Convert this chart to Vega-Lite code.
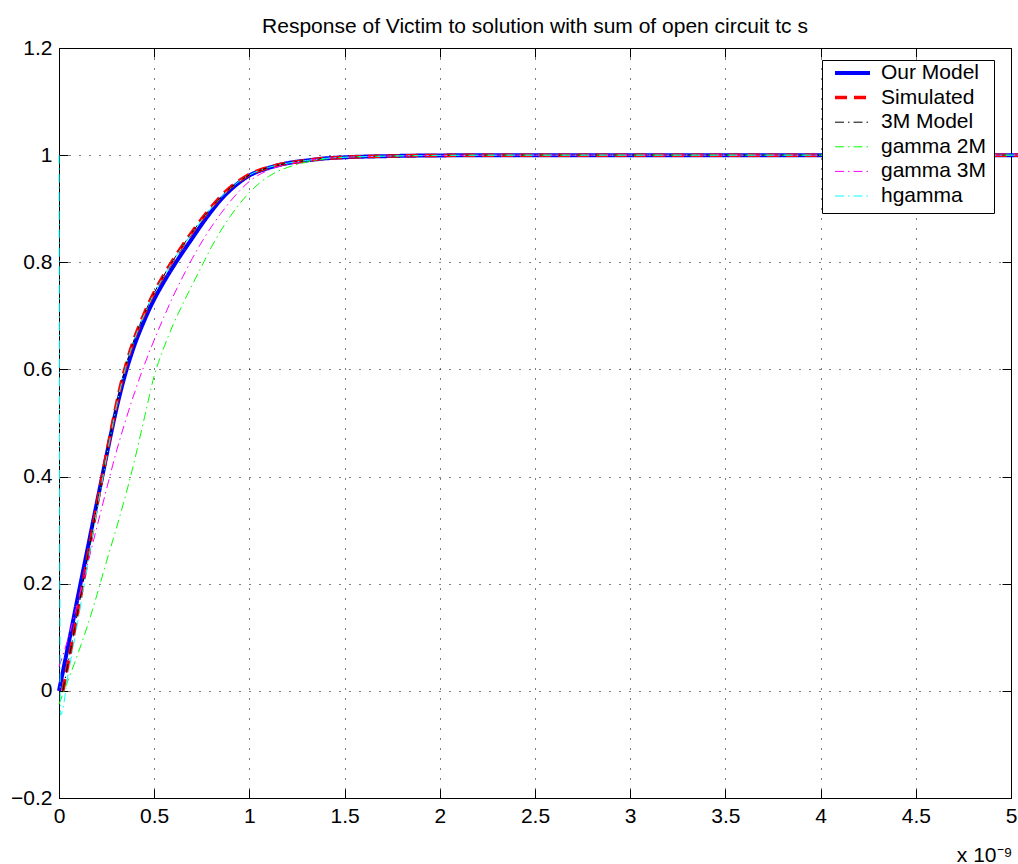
{
  "$schema": "https://vega.github.io/schema/vega-lite/v6.json",
  "width": 952,
  "height": 750,
  "autosize": {"type": "none"},
  "padding": {"left": 59, "top": 48, "right": 7, "bottom": 66},
  "background": "white",
  "title": {
    "text": "Response of Victim to solution with sum of open circuit tc s",
    "font": "Liberation Sans",
    "fontSize": 21,
    "fontWeight": "normal",
    "color": "black",
    "anchor": "middle",
    "offset": 0
  },
  "data": {
    "values": [
      {"s": "Our Model", "t": 0, "v": 0},
      {"s": "Our Model", "t": 0.05, "v": 0.088},
      {"s": "Our Model", "t": 0.1, "v": 0.177},
      {"s": "Our Model", "t": 0.15, "v": 0.265},
      {"s": "Our Model", "t": 0.2, "v": 0.353},
      {"s": "Our Model", "t": 0.25, "v": 0.44},
      {"s": "Our Model", "t": 0.275, "v": 0.483},
      {"s": "Our Model", "t": 0.3, "v": 0.524},
      {"s": "Our Model", "t": 0.325, "v": 0.561},
      {"s": "Our Model", "t": 0.35, "v": 0.594},
      {"s": "Our Model", "t": 0.375, "v": 0.623},
      {"s": "Our Model", "t": 0.4, "v": 0.649},
      {"s": "Our Model", "t": 0.425, "v": 0.672},
      {"s": "Our Model", "t": 0.45, "v": 0.693},
      {"s": "Our Model", "t": 0.475, "v": 0.713},
      {"s": "Our Model", "t": 0.5, "v": 0.731},
      {"s": "Our Model", "t": 0.55, "v": 0.763},
      {"s": "Our Model", "t": 0.6, "v": 0.792},
      {"s": "Our Model", "t": 0.65, "v": 0.819},
      {"s": "Our Model", "t": 0.7, "v": 0.845},
      {"s": "Our Model", "t": 0.75, "v": 0.871},
      {"s": "Our Model", "t": 0.8, "v": 0.895},
      {"s": "Our Model", "t": 0.85, "v": 0.917},
      {"s": "Our Model", "t": 0.9, "v": 0.935},
      {"s": "Our Model", "t": 0.95, "v": 0.95},
      {"s": "Our Model", "t": 1.0, "v": 0.962},
      {"s": "Our Model", "t": 1.1, "v": 0.976},
      {"s": "Our Model", "t": 1.2, "v": 0.985},
      {"s": "Our Model", "t": 1.3, "v": 0.99},
      {"s": "Our Model", "t": 1.4, "v": 0.994},
      {"s": "Our Model", "t": 1.5, "v": 0.996},
      {"s": "Our Model", "t": 1.7, "v": 0.998},
      {"s": "Our Model", "t": 2.0, "v": 0.9995},
      {"s": "Our Model", "t": 2.5, "v": 1.0},
      {"s": "Our Model", "t": 3.0, "v": 1.0},
      {"s": "Our Model", "t": 4.0, "v": 1.0},
      {"s": "Our Model", "t": 5.04, "v": 1.0},

      {"s": "Simulated", "t": 0.02, "v": 0},
      {"s": "Simulated", "t": 0.05, "v": 0.055},
      {"s": "Simulated", "t": 0.1, "v": 0.15},
      {"s": "Simulated", "t": 0.15, "v": 0.248},
      {"s": "Simulated", "t": 0.2, "v": 0.348},
      {"s": "Simulated", "t": 0.25, "v": 0.442},
      {"s": "Simulated", "t": 0.275, "v": 0.488},
      {"s": "Simulated", "t": 0.3, "v": 0.532},
      {"s": "Simulated", "t": 0.325, "v": 0.572},
      {"s": "Simulated", "t": 0.35, "v": 0.606},
      {"s": "Simulated", "t": 0.375, "v": 0.636},
      {"s": "Simulated", "t": 0.4, "v": 0.662},
      {"s": "Simulated", "t": 0.425, "v": 0.685},
      {"s": "Simulated", "t": 0.45, "v": 0.706},
      {"s": "Simulated", "t": 0.475, "v": 0.726},
      {"s": "Simulated", "t": 0.5, "v": 0.744},
      {"s": "Simulated", "t": 0.55, "v": 0.776},
      {"s": "Simulated", "t": 0.6, "v": 0.805},
      {"s": "Simulated", "t": 0.65, "v": 0.832},
      {"s": "Simulated", "t": 0.7, "v": 0.857},
      {"s": "Simulated", "t": 0.75, "v": 0.881},
      {"s": "Simulated", "t": 0.8, "v": 0.903},
      {"s": "Simulated", "t": 0.85, "v": 0.923},
      {"s": "Simulated", "t": 0.9, "v": 0.94},
      {"s": "Simulated", "t": 0.95, "v": 0.953},
      {"s": "Simulated", "t": 1.0, "v": 0.964},
      {"s": "Simulated", "t": 1.1, "v": 0.977},
      {"s": "Simulated", "t": 1.2, "v": 0.985},
      {"s": "Simulated", "t": 1.3, "v": 0.99},
      {"s": "Simulated", "t": 1.4, "v": 0.994},
      {"s": "Simulated", "t": 1.5, "v": 0.996},
      {"s": "Simulated", "t": 1.7, "v": 0.998},
      {"s": "Simulated", "t": 2.0, "v": 0.9995},
      {"s": "Simulated", "t": 2.5, "v": 1.0},
      {"s": "Simulated", "t": 3.0, "v": 1.0},
      {"s": "Simulated", "t": 4.0, "v": 1.0},
      {"s": "Simulated", "t": 5.04, "v": 1.0},

      {"s": "3M Model", "t": 0.02, "v": 0},
      {"s": "3M Model", "t": 0.05, "v": 0.056},
      {"s": "3M Model", "t": 0.1, "v": 0.151},
      {"s": "3M Model", "t": 0.15, "v": 0.248},
      {"s": "3M Model", "t": 0.2, "v": 0.347},
      {"s": "3M Model", "t": 0.25, "v": 0.441},
      {"s": "3M Model", "t": 0.275, "v": 0.487},
      {"s": "3M Model", "t": 0.3, "v": 0.53},
      {"s": "3M Model", "t": 0.325, "v": 0.57},
      {"s": "3M Model", "t": 0.35, "v": 0.605},
      {"s": "3M Model", "t": 0.375, "v": 0.635},
      {"s": "3M Model", "t": 0.4, "v": 0.661},
      {"s": "3M Model", "t": 0.425, "v": 0.684},
      {"s": "3M Model", "t": 0.45, "v": 0.705},
      {"s": "3M Model", "t": 0.475, "v": 0.725},
      {"s": "3M Model", "t": 0.5, "v": 0.743},
      {"s": "3M Model", "t": 0.55, "v": 0.775},
      {"s": "3M Model", "t": 0.6, "v": 0.804},
      {"s": "3M Model", "t": 0.65, "v": 0.831},
      {"s": "3M Model", "t": 0.7, "v": 0.856},
      {"s": "3M Model", "t": 0.75, "v": 0.88},
      {"s": "3M Model", "t": 0.8, "v": 0.902},
      {"s": "3M Model", "t": 0.85, "v": 0.922},
      {"s": "3M Model", "t": 0.9, "v": 0.939},
      {"s": "3M Model", "t": 0.95, "v": 0.952},
      {"s": "3M Model", "t": 1.0, "v": 0.963},
      {"s": "3M Model", "t": 1.1, "v": 0.977},
      {"s": "3M Model", "t": 1.2, "v": 0.985},
      {"s": "3M Model", "t": 1.3, "v": 0.99},
      {"s": "3M Model", "t": 1.4, "v": 0.994},
      {"s": "3M Model", "t": 1.5, "v": 0.996},
      {"s": "3M Model", "t": 1.7, "v": 0.998},
      {"s": "3M Model", "t": 2.0, "v": 0.9995},
      {"s": "3M Model", "t": 2.5, "v": 1.0},
      {"s": "3M Model", "t": 3.0, "v": 1.0},
      {"s": "3M Model", "t": 4.0, "v": 1.0},
      {"s": "3M Model", "t": 5.04, "v": 1.0},

      {"s": "gamma 2M", "t": 0, "v": -0.025},
      {"s": "gamma 2M", "t": 0.05, "v": 0.022},
      {"s": "gamma 2M", "t": 0.1, "v": 0.07},
      {"s": "gamma 2M", "t": 0.15, "v": 0.122},
      {"s": "gamma 2M", "t": 0.2, "v": 0.18},
      {"s": "gamma 2M", "t": 0.25, "v": 0.242},
      {"s": "gamma 2M", "t": 0.3, "v": 0.302},
      {"s": "gamma 2M", "t": 0.35, "v": 0.365},
      {"s": "gamma 2M", "t": 0.4, "v": 0.435},
      {"s": "gamma 2M", "t": 0.45, "v": 0.512},
      {"s": "gamma 2M", "t": 0.5, "v": 0.588},
      {"s": "gamma 2M", "t": 0.55, "v": 0.64},
      {"s": "gamma 2M", "t": 0.6, "v": 0.684},
      {"s": "gamma 2M", "t": 0.65, "v": 0.722},
      {"s": "gamma 2M", "t": 0.7, "v": 0.758},
      {"s": "gamma 2M", "t": 0.75, "v": 0.793},
      {"s": "gamma 2M", "t": 0.8, "v": 0.828},
      {"s": "gamma 2M", "t": 0.85, "v": 0.859},
      {"s": "gamma 2M", "t": 0.9, "v": 0.886},
      {"s": "gamma 2M", "t": 0.95, "v": 0.91},
      {"s": "gamma 2M", "t": 1.0, "v": 0.93},
      {"s": "gamma 2M", "t": 1.05, "v": 0.947},
      {"s": "gamma 2M", "t": 1.1, "v": 0.96},
      {"s": "gamma 2M", "t": 1.15, "v": 0.97},
      {"s": "gamma 2M", "t": 1.2, "v": 0.977},
      {"s": "gamma 2M", "t": 1.3, "v": 0.987},
      {"s": "gamma 2M", "t": 1.4, "v": 0.993},
      {"s": "gamma 2M", "t": 1.5, "v": 0.996},
      {"s": "gamma 2M", "t": 1.7, "v": 0.998},
      {"s": "gamma 2M", "t": 2.0, "v": 0.9995},
      {"s": "gamma 2M", "t": 2.5, "v": 1.0},
      {"s": "gamma 2M", "t": 3.0, "v": 1.0},
      {"s": "gamma 2M", "t": 4.0, "v": 1.0},
      {"s": "gamma 2M", "t": 5.04, "v": 1.0},

      {"s": "gamma 3M", "t": 0, "v": 0.045},
      {"s": "gamma 3M", "t": 0.05, "v": 0.1},
      {"s": "gamma 3M", "t": 0.1, "v": 0.168},
      {"s": "gamma 3M", "t": 0.15, "v": 0.237},
      {"s": "gamma 3M", "t": 0.2, "v": 0.307},
      {"s": "gamma 3M", "t": 0.25, "v": 0.377},
      {"s": "gamma 3M", "t": 0.3, "v": 0.445},
      {"s": "gamma 3M", "t": 0.35, "v": 0.505},
      {"s": "gamma 3M", "t": 0.4, "v": 0.56},
      {"s": "gamma 3M", "t": 0.45, "v": 0.61},
      {"s": "gamma 3M", "t": 0.5, "v": 0.655},
      {"s": "gamma 3M", "t": 0.55, "v": 0.697},
      {"s": "gamma 3M", "t": 0.6, "v": 0.737},
      {"s": "gamma 3M", "t": 0.65, "v": 0.773},
      {"s": "gamma 3M", "t": 0.7, "v": 0.807},
      {"s": "gamma 3M", "t": 0.75, "v": 0.838},
      {"s": "gamma 3M", "t": 0.8, "v": 0.866},
      {"s": "gamma 3M", "t": 0.85, "v": 0.891},
      {"s": "gamma 3M", "t": 0.9, "v": 0.914},
      {"s": "gamma 3M", "t": 0.95, "v": 0.934},
      {"s": "gamma 3M", "t": 1.0, "v": 0.951},
      {"s": "gamma 3M", "t": 1.1, "v": 0.972},
      {"s": "gamma 3M", "t": 1.2, "v": 0.983},
      {"s": "gamma 3M", "t": 1.3, "v": 0.99},
      {"s": "gamma 3M", "t": 1.4, "v": 0.994},
      {"s": "gamma 3M", "t": 1.5, "v": 0.996},
      {"s": "gamma 3M", "t": 1.7, "v": 0.998},
      {"s": "gamma 3M", "t": 2.0, "v": 0.9995},
      {"s": "gamma 3M", "t": 2.5, "v": 1.0},
      {"s": "gamma 3M", "t": 3.0, "v": 1.0},
      {"s": "gamma 3M", "t": 4.0, "v": 1.0},
      {"s": "gamma 3M", "t": 5.04, "v": 1.0},

      {"s": "hgamma", "t": 0, "v": 1.0},
      {"s": "hgamma", "t": 0.008, "v": -0.045},
      {"s": "hgamma", "t": 0.05, "v": 0.035},
      {"s": "hgamma", "t": 0.1, "v": 0.132},
      {"s": "hgamma", "t": 0.15, "v": 0.235},
      {"s": "hgamma", "t": 0.2, "v": 0.338},
      {"s": "hgamma", "t": 0.25, "v": 0.437},
      {"s": "hgamma", "t": 0.275, "v": 0.484},
      {"s": "hgamma", "t": 0.3, "v": 0.529},
      {"s": "hgamma", "t": 0.325, "v": 0.569},
      {"s": "hgamma", "t": 0.35, "v": 0.604},
      {"s": "hgamma", "t": 0.375, "v": 0.634},
      {"s": "hgamma", "t": 0.4, "v": 0.66},
      {"s": "hgamma", "t": 0.425, "v": 0.683},
      {"s": "hgamma", "t": 0.45, "v": 0.704},
      {"s": "hgamma", "t": 0.475, "v": 0.724},
      {"s": "hgamma", "t": 0.5, "v": 0.742},
      {"s": "hgamma", "t": 0.55, "v": 0.774},
      {"s": "hgamma", "t": 0.6, "v": 0.803},
      {"s": "hgamma", "t": 0.65, "v": 0.83},
      {"s": "hgamma", "t": 0.7, "v": 0.855},
      {"s": "hgamma", "t": 0.75, "v": 0.879},
      {"s": "hgamma", "t": 0.8, "v": 0.901},
      {"s": "hgamma", "t": 0.85, "v": 0.921},
      {"s": "hgamma", "t": 0.9, "v": 0.938},
      {"s": "hgamma", "t": 0.95, "v": 0.952},
      {"s": "hgamma", "t": 1.0, "v": 0.963},
      {"s": "hgamma", "t": 1.1, "v": 0.977},
      {"s": "hgamma", "t": 1.2, "v": 0.985},
      {"s": "hgamma", "t": 1.3, "v": 0.99},
      {"s": "hgamma", "t": 1.4, "v": 0.994},
      {"s": "hgamma", "t": 1.5, "v": 0.996},
      {"s": "hgamma", "t": 1.7, "v": 0.998},
      {"s": "hgamma", "t": 2.0, "v": 0.9995},
      {"s": "hgamma", "t": 2.5, "v": 1.0},
      {"s": "hgamma", "t": 3.0, "v": 1.0},
      {"s": "hgamma", "t": 4.0, "v": 1.0},
      {"s": "hgamma", "t": 5.04, "v": 1.0}
    ]
  },
  "layer": [
    {
      "mark": {"type": "line", "interpolate": "monotone", "strokeCap": "butt"},
      "encoding": {
        "x": {
          "field": "t",
          "type": "quantitative",
          "scale": {"domain": [0, 5], "nice": false, "zero": false},
          "axis": {
            "orient": "bottom",
            "values": [0, 0.5, 1, 1.5, 2, 2.5, 3, 3.5, 4, 4.5, 5],
            "format": "~g",
            "labelFlush": false,
            "title": "x 10⁻⁹",
            "titleAnchor": "end",
            "titleAlign": "right",
            "titleBaseline": "alphabetic",
            "titleX": 953,
            "titleY": 63,
            "titleFont": "Liberation Sans",
            "titleFontSize": 21,
            "titleFontWeight": "normal",
            "titleColor": "black"
          }
        },
        "y": {
          "field": "v",
          "type": "quantitative",
          "scale": {"domain": [-0.2, 1.2], "nice": false, "zero": false},
          "axis": {
            "orient": "left",
            "values": [-0.2, 0, 0.2, 0.4, 0.6, 0.8, 1, 1.2],
            "format": "~g",
            "labelFlush": false,
            "title": null
          }
        },
        "color": {
          "field": "s",
          "type": "nominal",
          "scale": {
            "domain": ["Our Model", "Simulated", "3M Model", "gamma 2M", "gamma 3M", "hgamma"],
            "range": ["#0000ff", "#ff0000", "#000000", "#00ff00", "#ff00ff", "#00ffff"]
          },
          "legend": {"title": null}
        },
        "strokeDash": {
          "field": "s",
          "type": "nominal",
          "scale": {
            "domain": ["Our Model", "Simulated", "3M Model", "gamma 2M", "gamma 3M", "hgamma"],
            "range": [[1, 0], [12, 7], [9, 4, 1.5, 4], [9, 4, 1.5, 4], [9, 4, 1.5, 4], [9, 4, 1.5, 4]]
          },
          "legend": {"title": null}
        },
        "strokeWidth": {
          "field": "s",
          "type": "nominal",
          "scale": {
            "type": "ordinal",
            "domain": ["Our Model", "Simulated", "3M Model", "gamma 2M", "gamma 3M", "hgamma"],
            "range": [4, 3.5, 1, 1, 1, 1]
          },
          "legend": {"title": null}
        }
      }
    },
    {
      "mark": {"type": "point", "opacity": 0},
      "encoding": {
        "x": {
          "field": "t",
          "type": "quantitative",
          "axis": {"orient": "top", "values": [0, 0.5, 1, 1.5, 2, 2.5, 3, 3.5, 4, 4.5, 5], "labels": false, "grid": false, "title": null}
        },
        "y": {
          "field": "v",
          "type": "quantitative",
          "axis": {"orient": "right", "values": [-0.2, 0, 0.2, 0.4, 0.6, 0.8, 1, 1.2], "labels": false, "grid": false, "title": null}
        }
      }
    }
  ],
  "resolve": {"axis": {"x": "independent", "y": "independent"}},
  "config": {
    "view": {"stroke": "black", "strokeWidth": 1},
    "axis": {
      "domainColor": "black",
      "domainWidth": 1,
      "tickColor": "black",
      "tickWidth": 1,
      "tickSize": -9,
      "labelPadding": 16,
      "labelFont": "Liberation Sans",
      "labelFontSize": 21,
      "labelColor": "black",
      "grid": true,
      "gridColor": "black",
      "gridOpacity": 1,
      "gridWidth": 1,
      "gridDash": [1, 9]
    },
    "legend": {
      "orient": "none",
      "legendX": 763,
      "legendY": 12,
      "fillColor": "white",
      "strokeColor": "black",
      "strokeWidth": 1,
      "padding": 7,
      "cornerRadius": 0,
      "symbolType": "stroke",
      "symbolSize": 1225,
      "symbolOffset": 4,
      "labelOffset": 9,
      "labelFont": "Liberation Sans",
      "labelFontSize": 21,
      "labelColor": "black",
      "clipHeight": 12,
      "rowPadding": 3.6,
      "labelLimit": 300
    }
  }
}
